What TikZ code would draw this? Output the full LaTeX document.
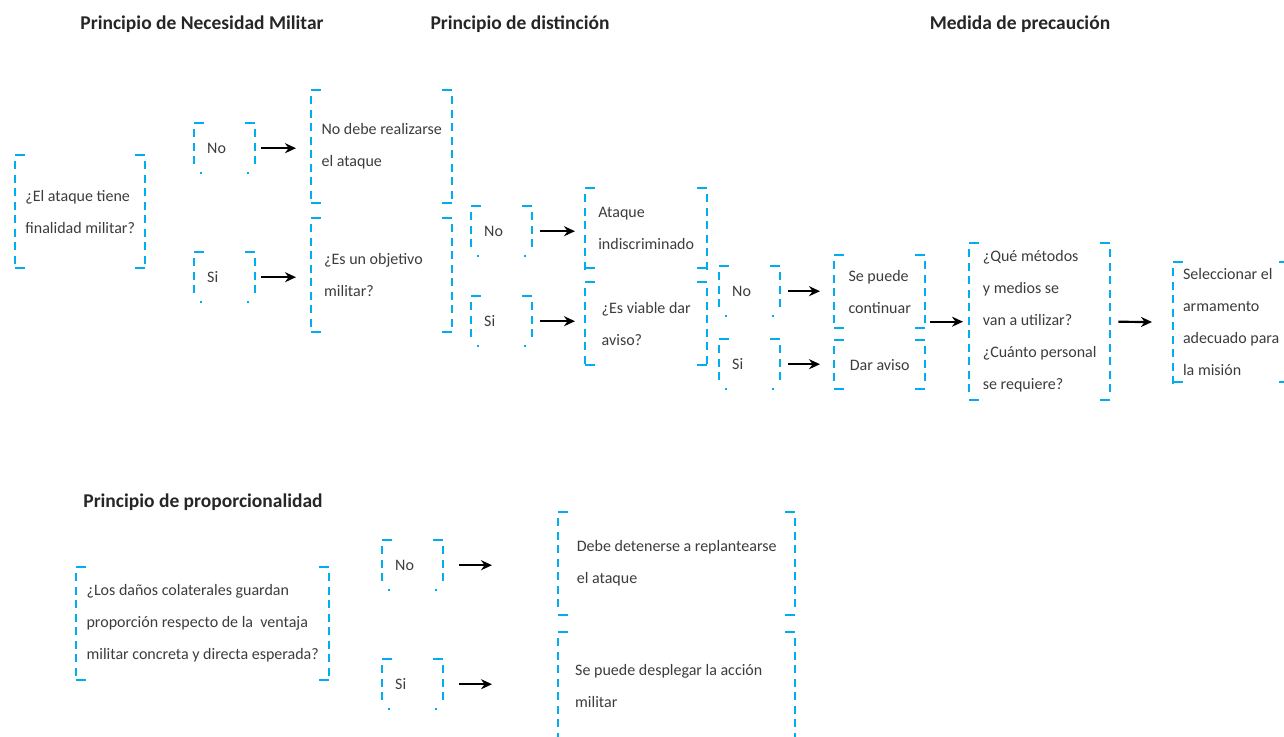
\documentclass[tikz,border=0pt]{standalone}
\usepackage{fontspec}
\setmainfont{Carlito}
\usetikzlibrary{arrows.meta,calc}

\definecolor{brkcyan}{RGB}{0,174,239}
\definecolor{txtgray}{RGB}{60,60,60}

\tikzset{
  box/.style={anchor=north west, align=left, inner sep=0pt, text=txtgray,
    font=\fontsize{16}{32}\selectfont},
  choice/.style={box, align=flush left, minimum width=61pt, minimum height=50pt, text width=35pt, inner xsep=13pt},
  heading/.style={font=\fontsize{19.5}{22}\selectfont\bfseries, text=black!85},
  tick/.style={brkcyan, line width=2pt},
  flow/.style={-{Stealth[length=11pt,width=10pt]}, line width=2.2pt, shorten <=6pt},
}

% open cyan bracket round a node: name, bottom tick offset, bottom tick length
\newcommand\brkt[3]{%
  \path let \p1=(#1.north west), \p2=(#1.south west) in
    \pgfextra{\pgfmathtruncatemacro\ndash{(\y1-\y2-10)/13.5}\global\let\ndash\ndash};
  \foreach \k in {0,...,\ndash} {
    \draw[tick] ([yshift={-(6+13.5*\k)*1pt}]#1.north west) -- ++(0,8);
    \draw[tick] ([yshift={-(6+13.5*\k)*1pt}]#1.north east) -- ++(0,8);
  }
  \draw[tick] (#1.north west) -- ++(10,0);
  \draw[tick] (#1.north east) -- ++(-10,0);
  \draw[tick] ([xshift=#2pt]#1.south west) -- ++(#3,0);
  \draw[tick] ([xshift=-#2pt]#1.south east) -- ++(-#3,0);
}

\begin{document}
\begin{tikzpicture}[x=1pt,y=-1pt]
  \useasboundingbox (0,0) rectangle (1284,736);

  % headings
  \node[heading] (t1) at (202,24) {Principio de Necesidad Militar};
  \node[heading] (t2) at (520,24) {Principio de distinción};
  \node[heading] (t3) at (1020,24) {Medida de precaución};
  \node[heading] (t4) at (203,502) {Principio de proporcionalidad};

  % necesidad militar
  \node[box, minimum width=130pt, minimum height=113pt] (q1) at (15,155) {¿El ataque tiene\\finalidad militar?};
  \node[choice] (no1) at (194,123) {No};
  \node[choice] (si1) at (194,252) {Si};
  \node[box, minimum width=141pt, minimum height=113pt] (r1) at (311,90) {No debe realizarse\\el ataque};
  \node[box, align=flush left, minimum width=141pt, minimum height=114pt, text width=115pt, inner xsep=13pt] (q2) at (311,218)
    {¿Es un objetivo\\militar?};

  % distincion
  \node[choice] (no2) at (471,206) {No};
  \node[choice] (si2) at (471,296) {Si};
  \node[box, minimum width=122pt, minimum height=80pt] (r2) at (585,188) {Ataque\\indiscriminado};
  \node[box, minimum width=122pt, minimum height=83pt] (q3) at (585,282) {¿Es viable dar\\aviso?};

  % precaucion
  \node[choice] (no3) at (719,266) {No};
  \node[choice] (si3) at (719,339) {Si};
  \node[box, minimum width=91pt, minimum height=73pt] (r3) at (834,255) {Se puede\\continuar};
  \node[box, minimum width=91pt, minimum height=49pt] (r4) at (834,340) {Dar aviso};
  \node[box, minimum width=141pt, minimum height=157pt] (q4) at (969,243)
    {¿Qué métodos\\y medios se\\van a utilizar?\\¿Cuánto personal\\se requiere?};
  \node[box, minimum width=116pt, minimum height=120pt] (r5) at (1173,262)
    {Seleccionar el\\armamento\\adecuado para\\la misión};

  % proporcionalidad
  \node[box, minimum width=253pt, minimum height=113pt] (q5) at (76,567)
    {¿Los daños colaterales guardan\\proporción respecto de la~ ventaja\\militar concreta y directa esperada?};
  \node[choice] (no4) at (382,540) {No};
  \node[choice] (si4) at (382,659) {Si};
  \node[box, minimum width=237pt, minimum height=103pt] (r6) at (558,512) {Debe detenerse a replantearse\\el ataque};
  \node[box, align=flush left, minimum width=237pt, minimum height=108pt, text width=203pt, inner xsep=17pt] (r7) at (558,632)
    {Se puede desplegar la acción\\militar};

  \foreach \bx in {q1,r1,q2,r2,q3,r3,r4,q4,r5,q5,r6,r7} {\brkt{\bx}{0}{10}}
  \foreach \bx in {no1,si1,no2,si2,no3,si3,no4,si4} {\brkt{\bx}{6}{2}}

  % arrows
  \draw[flow, shorten >=15pt] (no1.east) -- (no1.east -| r1.west);
  \draw[flow, shorten >=15pt] (si1.east) -- (si1.east -| q2.west);
  \draw[flow, shorten <=8pt, shorten >=10pt] (no2.east) -- (no2.east -| r2.west);
  \draw[flow, shorten <=8pt, shorten >=10pt] (si2.east) -- (si2.east -| q3.west);
  \draw[flow, shorten <=8pt, shorten >=14pt] (no3.east) -- (no3.east -| r3.west);
  \draw[flow, shorten <=8pt, shorten >=14pt] (si3.east) -- (si3.east -| r4.west);
  \draw[flow, shorten <=5pt, shorten >=6pt] (r3.east |- q4.west) -- (q4.west);
  \draw[flow, shorten <=8pt, shorten >=21pt] (q4.east) -- (r5.west);
  \draw[flow, shorten <=16pt, shorten >=66pt] (no4.east) -- (no4.east -| r6.west);
  \draw[flow, shorten <=16pt, shorten >=66pt] (si4.east) -- (si4.east -| r7.west);
\end{tikzpicture}
\end{document}
